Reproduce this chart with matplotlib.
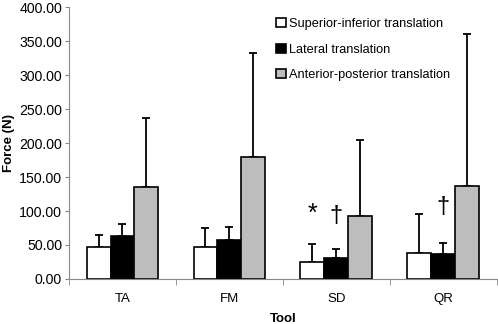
import numpy as np
import matplotlib
matplotlib.use('Agg')
import matplotlib.pyplot as plt

plt.rcParams['font.family'] = ['Liberation Sans', 'DejaVu Sans']

tools = ['TA', 'FM', 'SD', 'QR']
series = ['Superior-inferior translation', 'Lateral translation', 'Anterior-posterior translation']
si_mean = [47.5, 47, 25, 38]
si_err = [17, 27.5, 27, 57.5]
lat_mean = [63.5, 57, 31, 36]
lat_err = [17.5, 19, 13.5, 16.5]
ap_mean = [135, 180, 92, 137]
ap_err = [102, 153, 112, 223]
colors = ['white', 'black', '#bdbdbd']

fig = plt.figure(figsize=(4.98, 3.24), dpi=100)
ax = fig.add_axes([0.1386, 0.139, 0.859, 0.839])

x = np.arange(len(tools))
w = 0.224
means = [si_mean, lat_mean, ap_mean]
errs = [si_err, lat_err, ap_err]
for i, (m, e, c, lab) in enumerate(zip(means, errs, colors, series)):
    pos = x + (i - 1) * w
    ax.bar(pos, m, width=w, color=c, edgecolor='black', linewidth=1.2, label=lab, zorder=2)
    ax.errorbar(pos, m, yerr=[np.zeros(len(m)), e], fmt='none', ecolor='black',
                elinewidth=1.3, capsize=3, capthick=1.3, zorder=1)

# significance marks
ax.text(x[2] - w, 96, '*', ha='center', va='center', fontsize=18)
ax.text(x[2], 92, '\u2020', ha='center', va='center', fontsize=17)
ax.text(x[3], 106, '\u2020', ha='center', va='center', fontsize=17)

ax.set_ylim(0, 400)
ax.set_xlim(-0.5, 3.5)
ax.set_yticks(np.arange(0, 401, 50))
ax.set_yticklabels([f'{v:.2f}' for v in np.arange(0, 401, 50)], fontsize=10.2)
ax.set_xticks(x)
ax.set_xticklabels(tools, fontsize=9.5)
ax.set_xticks(np.arange(-0.5, 3.6, 1), minor=True)
ax.tick_params(axis='x', which='major', length=0, pad=10)
ax.tick_params(axis='x', which='minor', length=4, color='#888888')
ax.tick_params(axis='y', length=3, pad=2, color='#888888')
ax.spines['top'].set_visible(False)
ax.spines['right'].set_visible(False)
ax.spines['left'].set_color('#888888')
ax.spines['bottom'].set_color('#888888')
ax.set_ylabel('Force (N)', fontsize=9.5, fontweight='bold')
ax.yaxis.set_label_coords(-0.127, 0.5)
ax.set_xlabel('Tool', fontsize=9.5, fontweight='bold', labelpad=6)

ax.legend(loc='upper left', bbox_to_anchor=(0.484, 0.96), frameon=False, fontsize=9.2,
          borderpad=0, borderaxespad=0,
          handlelength=0.75, handleheight=0.75, handletextpad=0.25, labelspacing=1.05)

fig.savefig('out.png', dpi=100)
